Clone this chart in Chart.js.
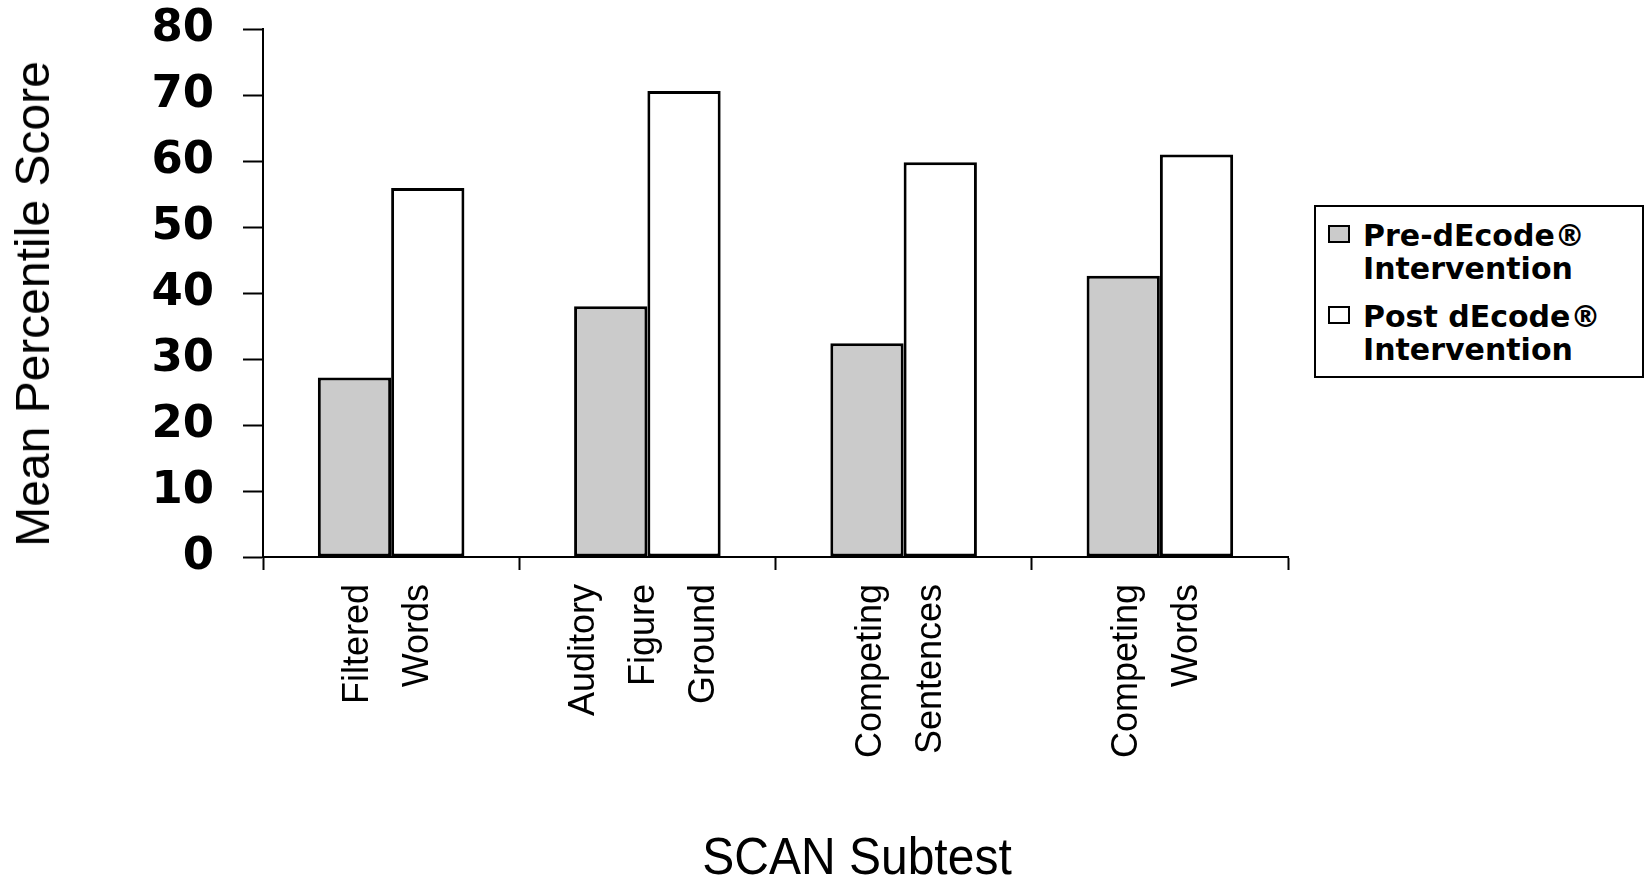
<!DOCTYPE html>
<html>
<head>
<meta charset="utf-8">
<script src="https://cdn.jsdelivr.net/npm/chart.js@4.4.0/dist/chart.umd.min.js"></script>
<style>
  html, body { margin: 0; padding: 0; background: #fff; }
  #wrap { position: relative; width: 1648px; height: 882px; overflow: hidden; }
  #chart { position: absolute; left: 0; top: 0; }
  .axis-title {
    position: absolute; white-space: nowrap; color: #000;
    font-family: "Liberation Sans", Arial, sans-serif; font-weight: normal; line-height: 1;
  }
  #ytitle { left: 33px; top: 304px; font-size: 48px; transform: translate(-50%, -50%) rotate(-90deg); }
  #xtitle { left: 857px; top: 830px; font-size: 52px; transform: translateX(-50%) scaleX(0.923); }
  #legend {
    position: absolute; left: 1314px; top: 205px; width: 330px; height: 173px;
    box-sizing: border-box; border: 2px solid #000; background: #fff;
    padding: 12px 0 0 12px;
    font-family: "DejaVu Sans", sans-serif; font-weight: bold; font-size: 30px; line-height: 33px; color: #000;
  }
  #legend .item { position: relative; padding-left: 35px; margin-bottom: 15px; white-space: nowrap; }
  #legend .sw { position: absolute; left: 0; top: 6px; width: 18px; height: 14px; border: 2px solid #000; }
</style>
</head>
<body>
<div id="wrap">
  <canvas id="chart" width="1648" height="882"></canvas>
  <div id="ytitle" class="axis-title"></div>
  <div id="xtitle" class="axis-title"></div>
  <div id="legend"></div>
</div>
<script>
// Subtest categories (one array entry per label line)
const categories = [
  ["Filtered", "Words"],
  ["Auditory", "Figure", "Ground"],
  ["Competing", "Sentences"],
  ["Competing", "Words"]
];
// Mean percentile scores before and after the intervention
const preValues = [27.2, 38.0, 32.4, 42.6];
const postValues = [55.9, 70.6, 59.8, 61.0];
// Series names, split into legend lines
const seriesNames = [
  ["Pre-dEcode®", "Intervention"],
  ["Post dEcode®", "Intervention"]
];
const seriesColors = ["#cbcbcb", "#ffffff"];
// Value axis tick labels
const yTickValues = [0, 10, 20, 30, 40, 50, 60, 70, 80];
const xTitle = "SCAN Subtest";
const yTitle = "Mean Percentile Score";

// Category labels use a narrow sans when one is installed, else regular Liberation Sans.
function hasFont(name) {
  const c = document.createElement("canvas").getContext("2d");
  const probe = "Competing Sentences";
  c.font = "40px monospace";
  const base = c.measureText(probe).width;
  c.font = '40px "' + name + '", monospace';
  return Math.abs(c.measureText(probe).width - base) > 0.5;
}
const narrow = hasFont("Liberation Sans Narrow");
const catFont = narrow
  ? { family: "Liberation Sans Narrow", size: 42 }
  : { family: "Liberation Sans", size: 36 };

// Rotated category labels: lines are laid out on a half-step grid so that
// two- and three-line labels are both centred on their category.
const HALF_STEP = 30;
const MAX_LINES = 3;
function stackedLabel(lines) {
  const out = [];
  for (let k = 0; k < MAX_LINES - lines.length; k++) out.push("");
  lines.forEach((t, i) => { if (i) out.push(""); out.push(t); });
  return out;
}

const chart = new Chart(document.getElementById("chart"), {
  type: "bar",
  data: {
    labels: categories,
    datasets: [
      { label: seriesNames[0].join(" "), data: preValues, backgroundColor: seriesColors[0],
        borderColor: "#000", borderWidth: 3, borderSkipped: false },
      { label: seriesNames[1].join(" "), data: postValues, backgroundColor: seriesColors[1],
        borderColor: "#000", borderWidth: 3, borderSkipped: false }
    ]
  },
  options: {
    responsive: false,
    animation: false,
    devicePixelRatio: 1,
    layout: { padding: { left: 0, top: 29, right: 360, bottom: 0 } },
    datasets: { bar: { categoryPercentage: 0.572, barPercentage: 1 } },
    plugins: { legend: { display: false }, tooltip: { enabled: false } },
    scales: {
      x: {
        offset: true,
        grid: { offset: true, drawOnChartArea: false, tickLength: 13, tickColor: "#000", tickWidth: 2 },
        border: { color: "#000", width: 2 },
        ticks: {
          color: "#000",
          autoSkip: false,
          maxRotation: 90,
          minRotation: 90,
          padding: 14,
          font: { family: catFont.family, size: catFont.size, lineHeight: HALF_STEP / catFont.size },
          labelOffset: -(MAX_LINES - 1) * HALF_STEP - 3,
          callback: (value, index) => stackedLabel(categories[index])
        },
        afterFit: (s) => { s.height = 325; }
      },
      y: {
        min: 0,
        max: 80,
        afterBuildTicks: (s) => { s.ticks = yTickValues.map(v => ({ value: v })); },
        ticks: {
          color: "#000",
          padding: 29,
          font: { family: "DejaVu Sans", weight: "bold", size: 45 }
        },
        grid: { drawOnChartArea: false, tickLength: 20, tickColor: "#000", tickWidth: 2 },
        border: { color: "#000", width: 2 },
        afterFit: (s) => { s.width = 263; s.paddingTop = 0; s.paddingBottom = 0; }
      }
    }
  }
});

// Axis titles
document.getElementById("xtitle").textContent = xTitle;
document.getElementById("ytitle").textContent = yTitle;

// Legend box with two-line entries
const legend = document.getElementById("legend");
seriesNames.forEach((lines, i) => {
  const item = document.createElement("div");
  item.className = "item";
  const sw = document.createElement("span");
  sw.className = "sw";
  sw.style.background = seriesColors[i];
  item.appendChild(sw);
  lines.forEach((t, j) => {
    if (j) item.appendChild(document.createElement("br"));
    item.appendChild(document.createTextNode(t));
  });
  legend.appendChild(item);
});
</script>
</body>
</html>
